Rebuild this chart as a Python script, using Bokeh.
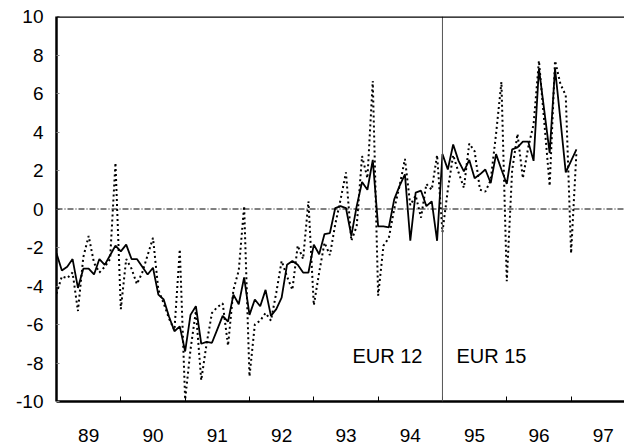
import numpy as np
from bokeh.plotting import figure
from bokeh.models import ColumnDataSource, FixedTicker, Span, Label, Range1d
from bokeh.embed import file_html
from bokeh.resources import INLINE

# Monthly series, Jan 1989 - Feb 1997
solid = [
    -2.3, -3.2, -3.0, -2.6, -4.1, -3.1, -3.1, -3.4, -2.6, -2.9,
    -2.4, -1.9, -2.2, -1.85, -2.6, -2.6, -3.0, -3.4, -3.05, -4.45,
    -4.7, -5.6, -6.35, -6.1, -7.4, -5.5, -5.05, -7.0, -6.9, -6.95,
    -6.25, -5.55, -5.85, -4.45, -4.95, -3.55, -5.5, -4.7, -5.05, -4.2,
    -5.55, -5.2, -4.6, -2.9, -2.7, -2.9, -3.3, -3.3, -1.85, -2.35,
    -1.3, -1.25, 0.05, 0.15, 0.05, -1.4, 0.15, 1.4, 1.0, 2.55,
    -0.9, -0.9, -0.95, 0.5, 1.2, 1.8, -1.65, 0.85, 0.95, 0.15,
    0.4, -1.65, 2.85, 2.05, 3.35, 2.5, 1.95, 2.55, 1.6, 1.8,
    2.05, 1.35, 2.85, 2.05, 1.3, 3.1, 3.2, 3.5, 3.5, 2.5,
    7.3, 5.1, 2.9, 7.3, 4.65, 1.9, 2.5, 3.1,
]
dotted = [
    -4.4, -3.5, -3.6, -3.3, -5.3, -2.5, -1.4, -2.8, -3.3, -3.0,
    -2.6, 2.4, -5.2, -2.6, -3.1, -3.9, -3.3, -2.4, -1.5, -4.2,
    -4.9, -5.7, -6.3, -2.1, -9.9, -7.3, -5.3, -8.9, -7.0, -5.4,
    -5.1, -4.9, -7.1, -4.2, -3.2, 0.15, -8.7, -6.0, -5.8, -5.4,
    -5.8, -4.35, -2.7, -3.5, -4.2, -1.9, -2.6, 0.4, -5.0, -3.3,
    -1.75, -2.4, -0.8, 0.5, 1.9, -1.65, -0.9, 2.75, 1.6, 6.65,
    -4.5, -1.9, -1.5, 0.0, 1.2, 2.6, 0.2, 0.7, -0.45, 1.3,
    1.0, 2.8, -1.2, 1.0, 2.8, 1.9, 1.1, 3.4, 3.0, 1.0,
    0.9, 1.5, 3.9, 6.6, -3.75, 2.0, 3.9, 1.6, 3.2, 4.4,
    7.7, 4.5, 1.2, 7.7, 6.5, 5.9, -2.3, 3.0,
]
start_year = 1989
year_labels = ["89", "90", "91", "92", "93", "94", "95", "96", "97"]
y_ticks = [-10, -8, -6, -4, -2, 0, 2, 4, 6, 8, 10]
y_tick_labels = ["-10", "-8", "-6", "-4", "-2", "0", "2", "4", "6", "8", "10"]
break_year = 1995
left_label = "EUR 12"
right_label = "EUR 15"

t = start_year + np.arange(len(solid)) / 12.0
src = ColumnDataSource(dict(t=t, solid=solid, dotted=dotted))

FONT = "Liberation Sans"

p = figure(width=624, height=444, output_backend="svg", toolbar_location=None,
           x_range=Range1d(1989.0, 1997.83), y_range=Range1d(-10, 10),
           min_border_left=56, min_border_top=16, min_border_right=0,
           min_border_bottom=43)
p.frame_width = 568
p.frame_height = 385
p.outline_line_color = None
p.grid.grid_line_color = None
p.background_fill_color = "white"
p.border_fill_color = "white"

# zero line
p.add_layout(Span(location=0, dimension="width", line_color="black",
                  line_width=1, line_dash="6 2 1 2"))
# EUR12 / EUR15 break
p.add_layout(Span(location=break_year, dimension="height", line_color="#555555",
                  line_width=1))
# top border
p.add_layout(Span(location=10, dimension="width", line_color="black", line_width=2.5))

p.line("t", "dotted", source=src, line_color="black", line_width=2,
       line_dash="2 3")
p.line("t", "solid", source=src, line_color="black", line_width=1.8)

ticks_mid = [start_year + i + 0.5 for i in range(len(year_labels))]
p.xaxis.ticker = FixedTicker(ticks=ticks_mid,
                             minor_ticks=[start_year + i for i in range(1, len(year_labels))])
p.xaxis.major_label_overrides = {m: s for m, s in zip(ticks_mid, year_labels)}
p.xaxis.major_tick_line_color = None
p.xaxis.major_tick_out = 0
p.xaxis.major_tick_in = 0
p.xaxis.minor_tick_in = 5
p.xaxis.minor_tick_out = 0
p.xaxis.minor_tick_line_color = "black"
p.xaxis.minor_tick_line_width = 1
p.xaxis.major_label_standoff = 27
p.xaxis.axis_line_width = 2.5

p.yaxis.ticker = FixedTicker(ticks=y_ticks, minor_ticks=[])
p.yaxis.major_label_overrides = {v: s for v, s in zip(y_ticks, y_tick_labels)}
p.yaxis.major_tick_in = 3
p.yaxis.major_tick_out = 0
p.yaxis.major_tick_line_color = "#888888"
p.yaxis.major_label_standoff = 13
p.yaxis.axis_line_width = 2.5

for ax in (p.xaxis, p.yaxis):
    ax.major_label_text_font = FONT
    ax.major_label_text_color = "black"
    ax.axis_line_color = "black"
p.xaxis.major_label_text_font_size = "19px"
p.yaxis.major_label_text_font_size = "19px"

p.add_layout(Label(x=break_year, y=-7.66, x_offset=-20, text=left_label,
                   text_align="right", text_baseline="middle",
                   text_font=FONT, text_font_size="20px", text_color="black"))
p.add_layout(Label(x=break_year, y=-7.66, x_offset=14, text=right_label,
                   text_align="left", text_baseline="middle",
                   text_font=FONT, text_font_size="20px", text_color="black"))

open("out.html", "w").write(file_html(p, INLINE))
